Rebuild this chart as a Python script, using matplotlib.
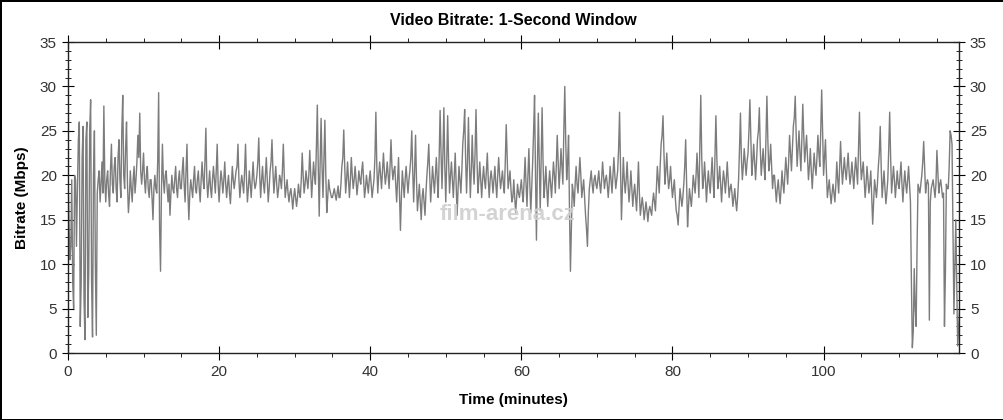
import numpy as np
import matplotlib
matplotlib.use('Agg')
import matplotlib.pyplot as plt
from matplotlib.ticker import MultipleLocator

plt.rcParams['font.family'] = ['Liberation Sans Narrow', 'Liberation Sans', 'DejaVu Sans']

# bitrate (Mbps) at every 0.25 minute
step_min = 0.25
bitrate = [
    # 0-5 min
    20.5, 10.5, 19.5, 5.0, 19.5, 18.5, 26.0, 8.0, 25.5, 1.5, 26.0, 9.0, 28.5, 1.8, 25.0, 2.0, 19.5, 17.0, 21.5, 27.8,
    # 5-10
    17.0, 20.5, 16.5, 23.5, 18.0, 22.0, 17.0, 24.0, 17.5, 29.0, 18.5, 26.0, 15.8, 20.5, 17.0, 21.0, 19.5, 24.5, 27.0, 19.0,
    # 10-15
    22.5, 18.0, 21.0, 17.5, 19.5, 15.0, 20.0, 18.0, 29.3, 9.2, 23.5, 18.0, 20.5, 17.0, 15.5, 20.0, 18.0, 21.0, 17.5, 20.5,
    # 15-20
    18.5, 22.0, 17.0, 23.5, 15.0, 19.5, 17.5, 21.0, 18.0, 20.5, 17.0, 21.5, 18.5, 25.3, 17.5, 20.5, 17.5, 21.0, 18.0, 23.5,
    # 20-25
    17.0, 20.5, 18.0, 21.5, 17.5, 20.0, 16.8, 21.0, 18.5, 20.5, 23.5, 17.5, 20.0, 18.0, 23.5, 17.0, 20.5, 17.5, 21.5, 18.5,
    # 25-30
    20.0, 24.2, 17.5, 21.0, 18.0, 22.0, 17.0, 20.5, 24.0, 18.0, 21.0, 17.5, 20.0, 18.5, 23.5, 17.5, 19.5, 17.0, 18.5, 16.2,
    # 30-35
    18.5, 16.5, 19.0, 17.5, 22.5, 18.0, 20.5, 18.5, 22.8, 17.5, 21.5, 19.0, 27.9, 15.4, 26.4, 17.5, 26.2, 15.8, 19.5, 18.0,
    # 35-40
    17.5, 18.5, 17.2, 18.8, 17.5, 21.0, 25.1, 18.0, 21.5, 17.5, 22.0, 18.5, 21.0, 17.8, 20.5, 19.0, 21.5, 17.5, 20.0, 18.0,
    # 40-45
    20.5, 17.5, 19.5, 27.1, 18.0, 21.5, 18.5, 22.5, 19.0, 21.5, 18.5, 24.0, 19.5, 21.0, 17.0, 22.0, 13.8, 20.5, 17.5, 21.0,
    # 45-50
    18.0, 20.5, 25.0, 17.0, 24.5, 16.0, 19.0, 15.0, 18.5, 15.5, 20.0, 23.5, 17.0, 21.0, 18.0, 22.0, 17.5, 27.3, 18.5, 27.6,
    # 50-55
    17.0, 26.7, 18.0, 21.5, 17.5, 22.5, 15.5, 21.0, 18.0, 23.5, 27.4, 18.0, 26.5, 17.5, 24.5, 19.0, 27.4, 18.0, 21.5, 17.5,
    # 55-60
    21.0, 18.5, 22.5, 17.5, 20.5, 18.0, 21.0, 17.5, 22.0, 18.5, 20.5, 18.0, 25.7, 18.5, 20.5, 17.0, 19.5, 15.8, 19.0, 17.5,
    # 60-65
    19.5, 17.0, 22.0, 16.5, 23.0, 15.8, 21.5, 29.0, 12.7, 27.0, 16.0, 27.6, 17.5, 21.0, 16.5, 20.5, 17.5, 21.5, 18.0, 24.5,
    # 65-70
    18.5, 23.0, 19.0, 30.0, 19.5, 24.5, 9.2, 19.0, 16.5, 21.0, 18.0, 22.0, 17.5, 19.5, 15.5, 12.0, 18.5, 20.5, 18.0, 20.0,
    # 70-75
    18.5, 20.5, 18.0, 21.5, 18.5, 20.0, 17.5, 21.0, 18.0, 22.0, 18.5, 20.5, 27.1, 15.0, 22.0, 18.0, 21.5, 17.0, 20.5, 16.5,
    # 75-80
    19.0, 16.0, 21.5, 15.5, 17.5, 15.0, 17.0, 14.8, 16.5, 15.5, 18.0, 16.0, 21.0, 18.0, 23.5, 26.7, 19.0, 22.5, 18.5, 21.0,
    # 80-85
    17.5, 19.5, 16.0, 14.4, 18.5, 16.5, 19.0, 24.0, 14.2, 18.5, 16.5, 20.0, 18.0, 22.5, 17.5, 29.0, 18.5, 21.5, 17.0, 20.5,
    # 85-90
    18.0, 22.0, 17.5, 26.7, 18.5, 21.0, 17.0, 20.5, 18.0, 21.5, 17.5, 19.0, 16.5, 18.5, 16.0, 19.5, 27.0, 19.5, 23.0, 20.0,
    # 90-95
    22.5, 28.5, 20.0, 23.5, 19.5, 24.0, 27.6, 20.0, 23.0, 19.5, 28.9, 20.5, 23.5, 18.5, 20.0, 17.0, 19.5, 16.8, 20.5, 18.0,
    # 95-100
    22.0, 19.0, 24.5, 20.5, 25.5, 28.9, 21.0, 25.0, 20.5, 28.0, 21.5, 24.5, 19.5, 23.0, 18.5, 22.5, 20.0, 24.5, 21.0, 29.6,
    # 100-105
    20.0, 24.0, 17.5, 19.5, 16.8, 19.0, 17.0, 21.5, 18.0, 23.8, 19.0, 22.0, 19.5, 22.5, 19.0, 21.5, 18.5, 22.0, 19.0, 27.1,
    # 105-110
    19.5, 21.5, 17.5, 21.0, 18.0, 20.5, 14.5, 19.5, 17.5, 21.0, 25.5, 17.5, 20.5, 16.8, 19.5, 27.1, 18.0, 21.0, 17.5, 20.5,
    # 110-115
    18.5, 21.5, 17.0, 20.5, 18.0, 21.0, 17.0, 0.6, 9.5, 3.0, 19.0, 18.0, 20.0, 23.8, 18.0, 19.5, 3.7, 18.5, 19.5, 17.5,
    # 115-118
    22.8, 18.0, 19.5, 17.5, 3.0, 19.0, 18.5, 25.0, 23.5, 4.4, 15.0, 0.8, 5.0,
]

# readings half way between those above (t + 0.125 minute)
bitrate_mid = [
    # 0-5 min
    15.0, 12.0, 8.0, 20.0, 12.0, 24.0, 3.0, 22.0, 6.0, 24.0, 4.0, 25.0, 8.0, 20.0, 10.0, 18.0, 20.5, 19.0, 18.0, 19.5,
    # 5-10
    19.5, 18.0, 20.5, 19.0, 21.0, 18.5, 22.0, 19.5, 25.0, 20.0, 23.0, 19.0, 17.5, 18.5, 19.5, 18.0, 21.5, 22.0, 20.5, 20.5,
    # 10-15
    19.5, 20.0, 18.5, 19.5, 17.5, 18.5, 18.5, 21.5, 14.0, 18.5, 19.5, 20.0, 18.5, 19.0, 18.0, 18.5, 19.5, 18.5, 19.5, 18.5,
    # 15-20
    20.5, 19.0, 20.5, 18.0, 18.0, 18.5, 19.5, 18.5, 19.5, 18.5, 19.5, 19.5, 21.5, 19.5, 19.0, 18.5, 19.5, 19.5, 20.5, 19.0,
    # 20-25
    19.0, 19.5, 19.5, 19.0, 19.0, 18.0, 19.0, 19.5, 19.5, 21.0, 19.5, 19.0, 19.0, 20.5, 19.5, 18.5, 19.0, 19.5, 19.5, 19.0,
    # 25-30
    21.5, 20.0, 19.5, 19.0, 20.0, 19.5, 18.5, 21.5, 20.5, 19.5, 19.0, 18.5, 19.5, 20.5, 20.0, 18.5, 18.0, 18.0, 17.5, 17.5,
    # 30-35
    17.5, 17.5, 18.0, 19.5, 20.0, 19.0, 19.5, 20.0, 20.0, 19.5, 20.0, 23.0, 21.0, 21.5, 21.0, 22.0, 20.0, 17.5, 18.5, 17.5,
    # 35-40
    18.0, 17.8, 18.0, 17.5, 19.0, 22.0, 21.0, 19.5, 19.5, 19.5, 20.0, 19.5, 19.5, 19.0, 19.5, 20.5, 19.5, 18.5, 19.0, 19.5,
    # 40-45
    19.0, 18.5, 22.0, 21.0, 20.0, 20.0, 20.5, 20.5, 20.0, 20.0, 21.0, 21.0, 20.5, 19.0, 19.5, 18.0, 17.5, 19.0, 19.5, 19.5,
    # 45-50
    19.5, 22.0, 20.5, 20.5, 19.5, 17.5, 17.0, 17.5, 17.0, 18.0, 21.5, 20.0, 19.0, 19.5, 20.0, 19.5, 22.0, 22.5, 22.5, 21.0,
    # 50-55
    21.5, 21.5, 20.0, 19.5, 20.0, 19.0, 18.5, 19.5, 20.5, 25.0, 22.0, 21.5, 21.5, 20.5, 21.0, 22.5, 22.0, 19.5, 19.5, 19.5,
    # 55-60
    19.5, 20.5, 19.5, 19.5, 19.5, 19.5, 19.0, 20.0, 20.0, 19.5, 19.0, 21.5, 22.0, 19.5, 18.5, 17.5, 17.5, 17.5, 18.0, 18.5,
    # 60-65
    18.0, 19.5, 19.0, 20.0, 19.0, 18.5, 25.0, 20.0, 21.0, 21.5, 22.0, 21.5, 19.0, 18.5, 19.0, 19.0, 19.5, 20.0, 21.0, 21.5,
    # 65-70
    20.5, 21.0, 25.0, 24.0, 21.5, 16.0, 14.0, 18.0, 19.0, 19.0, 20.0, 20.0, 18.5, 17.5, 14.0, 16.0, 19.5, 19.0, 19.5, 19.0,
    # 70-75
    19.5, 19.0, 19.5, 20.0, 19.5, 19.0, 19.0, 19.5, 20.0, 20.0, 19.5, 23.0, 21.0, 18.5, 19.5, 19.5, 19.0, 18.5, 18.5, 18.0,
    # 75-80
    17.5, 18.5, 18.0, 16.5, 16.5, 16.0, 16.0, 16.0, 16.0, 17.0, 17.0, 18.5, 19.5, 21.0, 24.5, 22.5, 20.5, 20.0, 19.5, 19.0,
    # 80-85
    18.5, 17.5, 15.5, 16.5, 17.5, 17.5, 21.0, 19.0, 16.5, 17.5, 18.0, 19.0, 20.0, 20.0, 23.0, 22.0, 19.5, 19.5, 19.0, 19.0,
    # 85-90
    20.0, 19.5, 22.0, 22.0, 19.5, 19.0, 19.0, 19.5, 19.5, 19.5, 18.5, 18.0, 17.5, 17.0, 17.5, 23.0, 22.0, 21.0, 21.5, 21.5,
    # 90-95
    25.0, 24.0, 21.5, 21.5, 21.5, 25.0, 23.0, 21.5, 21.0, 24.0, 24.0, 21.5, 21.0, 20.0, 18.5, 18.5, 18.0, 18.5, 19.0, 20.0,
    # 95-100
    20.5, 21.5, 22.5, 23.0, 26.5, 24.5, 23.0, 22.5, 24.0, 24.5, 23.0, 22.0, 21.0, 20.5, 20.5, 21.0, 22.0, 22.5, 25.0, 24.5,
    # 100-105
    22.0, 20.5, 18.5, 18.0, 18.0, 18.0, 19.0, 19.5, 21.0, 21.0, 20.5, 20.5, 21.0, 20.5, 20.0, 20.0, 20.5, 20.5, 23.0, 22.0,
    # 105-110
    20.5, 19.5, 19.0, 19.5, 19.0, 17.5, 17.0, 18.5, 19.0, 22.5, 21.0, 19.0, 18.5, 18.0, 23.0, 22.0, 19.5, 19.5, 19.0, 19.0,
    # 110-115
    20.0, 19.0, 19.0, 19.0, 19.5, 19.0, 8.0, 2.5, 5.0, 12.0, 18.5, 19.0, 21.5, 21.0, 19.0, 19.0, 17.0, 19.0, 18.5, 19.0,
    # 115-118
    20.5, 19.0, 18.5, 18.0, 9.0, 18.5, 21.0, 24.5, 14.0, 10.0, 8.0, 3.0,
]

# merge both readings into one time-ordered series
values = np.empty(len(bitrate) + len(bitrate_mid))
values[0::2] = bitrate
values[1::2] = bitrate_mid
time_min = np.arange(len(values)) * (step_min / 2)

fig = plt.figure(figsize=(10.04, 4.2), dpi=100)
fig.patch.set_edgecolor('black')
fig.patch.set_linewidth(2)
ax = fig.add_axes([0.0677, 0.1595, 0.8873, 0.7405])

ax.plot(time_min, values, color='#7c7c7c', lw=1.0)

ax.set_xlim(0, 117.9)
ax.set_ylim(0, 35)
ax.xaxis.set_major_locator(MultipleLocator(20))
ax.xaxis.set_minor_locator(MultipleLocator(5))
ax.yaxis.set_major_locator(MultipleLocator(5))
ax.yaxis.set_minor_locator(MultipleLocator(1))

for s in ax.spines.values():
    s.set_color('#222222')
    s.set_linewidth(1.0)

ax.tick_params(axis='y', which='both', left=True, right=True, labelright=True,
               direction='inout', labelsize=11, labelcolor='#333333')
ax.tick_params(axis='y', which='major', length=9)
ax.tick_params(axis='y', which='minor', length=5)
ax.tick_params(axis='x', which='major', direction='inout', length=10, labelsize=11,
               labelcolor='#333333', top=True)
ax.tick_params(axis='x', which='minor', direction='out', length=3, top=True)

ax.set_title('Video Bitrate: 1-Second Window', fontsize=11.5, fontweight='bold', pad=12)
ax.set_xlabel('Time (minutes)', fontsize=11, fontweight='bold', labelpad=10)
ax.set_ylabel('Bitrate (Mbps)', fontsize=11, fontweight='bold', labelpad=8)

# watermark
fig.text(0.505, 0.49, 'film-arena.cz', fontsize=16, fontweight='bold',
         color='#cfcfcf', ha='center', va='center', alpha=0.9)

fig.savefig('out.png', dpi=100)
